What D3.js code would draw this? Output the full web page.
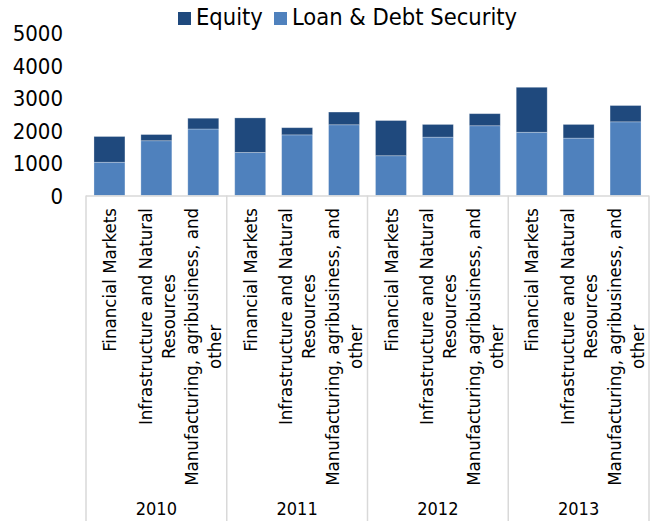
<!DOCTYPE html>
<html>
<head>
<meta charset="utf-8">
<script src="https://cdn.jsdelivr.net/npm/d3@7"></script>
<style>
  body { margin: 0; background: #fff; }
  svg text { font-family: "DejaVu Sans Condensed", "DejaVu Sans", sans-serif; fill: #000; }
</style>
</head>
<body>
<svg id="chart" width="658" height="521"></svg>
<script>
const svg = d3.select("#chart");

const years = ["2010", "2011", "2012", "2013"];
const sectors = ["Financial Markets", "Infrastructure and Natural Resources", "Manufacturing, agribusiness, and other"];
const sectorLines = [
    ["Financial Markets"],
    ["Infrastructure and Natural", "Resources"],
    ["Manufacturing, agribusiness, and", "other"]
];
// values per bar, year by year, sector by sector
const loan = [1020, 1680, 2040, 1320, 1860, 2170, 1220, 1790, 2140, 1940, 1760, 2260];
const equity = [790, 190, 330, 1060, 220, 390, 1080, 390, 370, 1380, 420, 500];
const yTicks = [0, 1000, 2000, 3000, 4000, 5000];
const seriesNames = ["Equity", "Loan & Debt Security"];

const colors = {
    equity: "#1f497d",
    loan: "#4f81bd",
    grid: "#d9d9d9"
};

const rows = [];
years.forEach((yr, i) => {
    sectors.forEach((s, j) => {
        const k = i * sectors.length + j;
        rows.push({ key: k, year: yr, sector: j, loan: loan[k], equity: equity[k] });
    });
});

const plotLeft = 86, plotRight = 649, plotTop = 32.5, plotBottom = 195.5;

const x = d3.scaleBand()
    .domain(rows.map(d => d.key))
    .range([plotLeft, plotRight])
    .paddingInner(0.34)
    .paddingOuter(0.17);

const y = d3.scaleLinear().domain([0, 5000]).range([plotBottom, plotTop]);

// y axis labels only
const yAxis = svg.append("g")
    .attr("transform", `translate(${plotLeft - 23},0)`)
    .call(d3.axisLeft(y).tickValues(yTicks).tickFormat(d3.format("d")).tickSize(0).tickPadding(0));
yAxis.select(".domain").remove();
yAxis.attr("font-family", null).attr("font-size", null);
yAxis.selectAll("text")
    .style("font-size", "22px")
    .attr("dy", "0.36em");

// stacked bars
const stack = d3.stack().keys(["loan", "equity"])(rows);

svg.append("g")
    .selectAll("g")
    .data(stack)
    .join("g")
    .attr("fill", d => colors[d.key])
    .selectAll("rect")
    .data(d => d)
    .join("rect")
    .attr("x", d => x(d.data.key))
    .attr("width", x.bandwidth())
    .attr("y", d => y(d[1]))
    .attr("height", d => y(d[0]) - y(d[1]))
    .attr("stroke", "#ffffff")
    .attr("stroke-opacity", 0.35)
    .attr("stroke-width", 0.8);

// category axis frame
const step = x.step();
svg.append("line")
    .attr("x1", plotLeft).attr("x2", plotRight)
    .attr("y1", plotBottom + 0.5).attr("y2", plotBottom + 0.5)
    .attr("stroke", colors.grid).attr("stroke-width", 1.5);

d3.range(years.length + 1).forEach(i => {
    const gx = plotLeft + i * sectors.length * step;
    svg.append("line")
        .attr("x1", gx).attr("x2", gx)
        .attr("y1", plotBottom).attr("y2", 521)
        .attr("stroke", colors.grid).attr("stroke-width", 1.5);
});

// rotated sector labels
const labelTop = 208;
const lineGap = 23;
const catLabels = svg.append("g")
    .selectAll("g")
    .data(rows)
    .join("g")
    .attr("transform", d => `translate(${x(d.key) + x.bandwidth() / 2},${labelTop}) rotate(-90)`);

catLabels.each(function (d) {
    const g = d3.select(this);
    const lines = sectorLines[d.sector];
    const texts = lines.map((ln, i) => g.append("text")
        .attr("text-anchor", "middle")
        .attr("y", (i - (lines.length - 1) / 2) * lineGap)
        .attr("dy", "0.36em")
        .style("font-size", "18.5px")
        .text(ln));
    const maxLen = d3.max(texts, t => t.node().getComputedTextLength());
    texts.forEach(t => t.attr("x", -maxLen / 2));
});

// year labels
svg.append("g")
    .selectAll("text")
    .data(years)
    .join("text")
    .attr("x", (d, i) => plotLeft + (i + 0.5) * sectors.length * step)
    .attr("y", 515)
    .attr("text-anchor", "middle")
    .style("font-size", "18px")
    .text(d => d);

// legend
const legend = svg.append("g");
const legendX = [178, 274];
seriesNames.forEach((name, i) => {
    legend.append("rect")
        .attr("x", legendX[i]).attr("y", 12)
        .attr("width", 13).attr("height", 13)
        .attr("fill", i === 0 ? colors.equity : colors.loan);
    legend.append("text")
        .attr("x", legendX[i] + 18)
        .attr("y", 25)
        .style("font-size", "23.5px")
        .text(name);
});
</script>
</body>
</html>
